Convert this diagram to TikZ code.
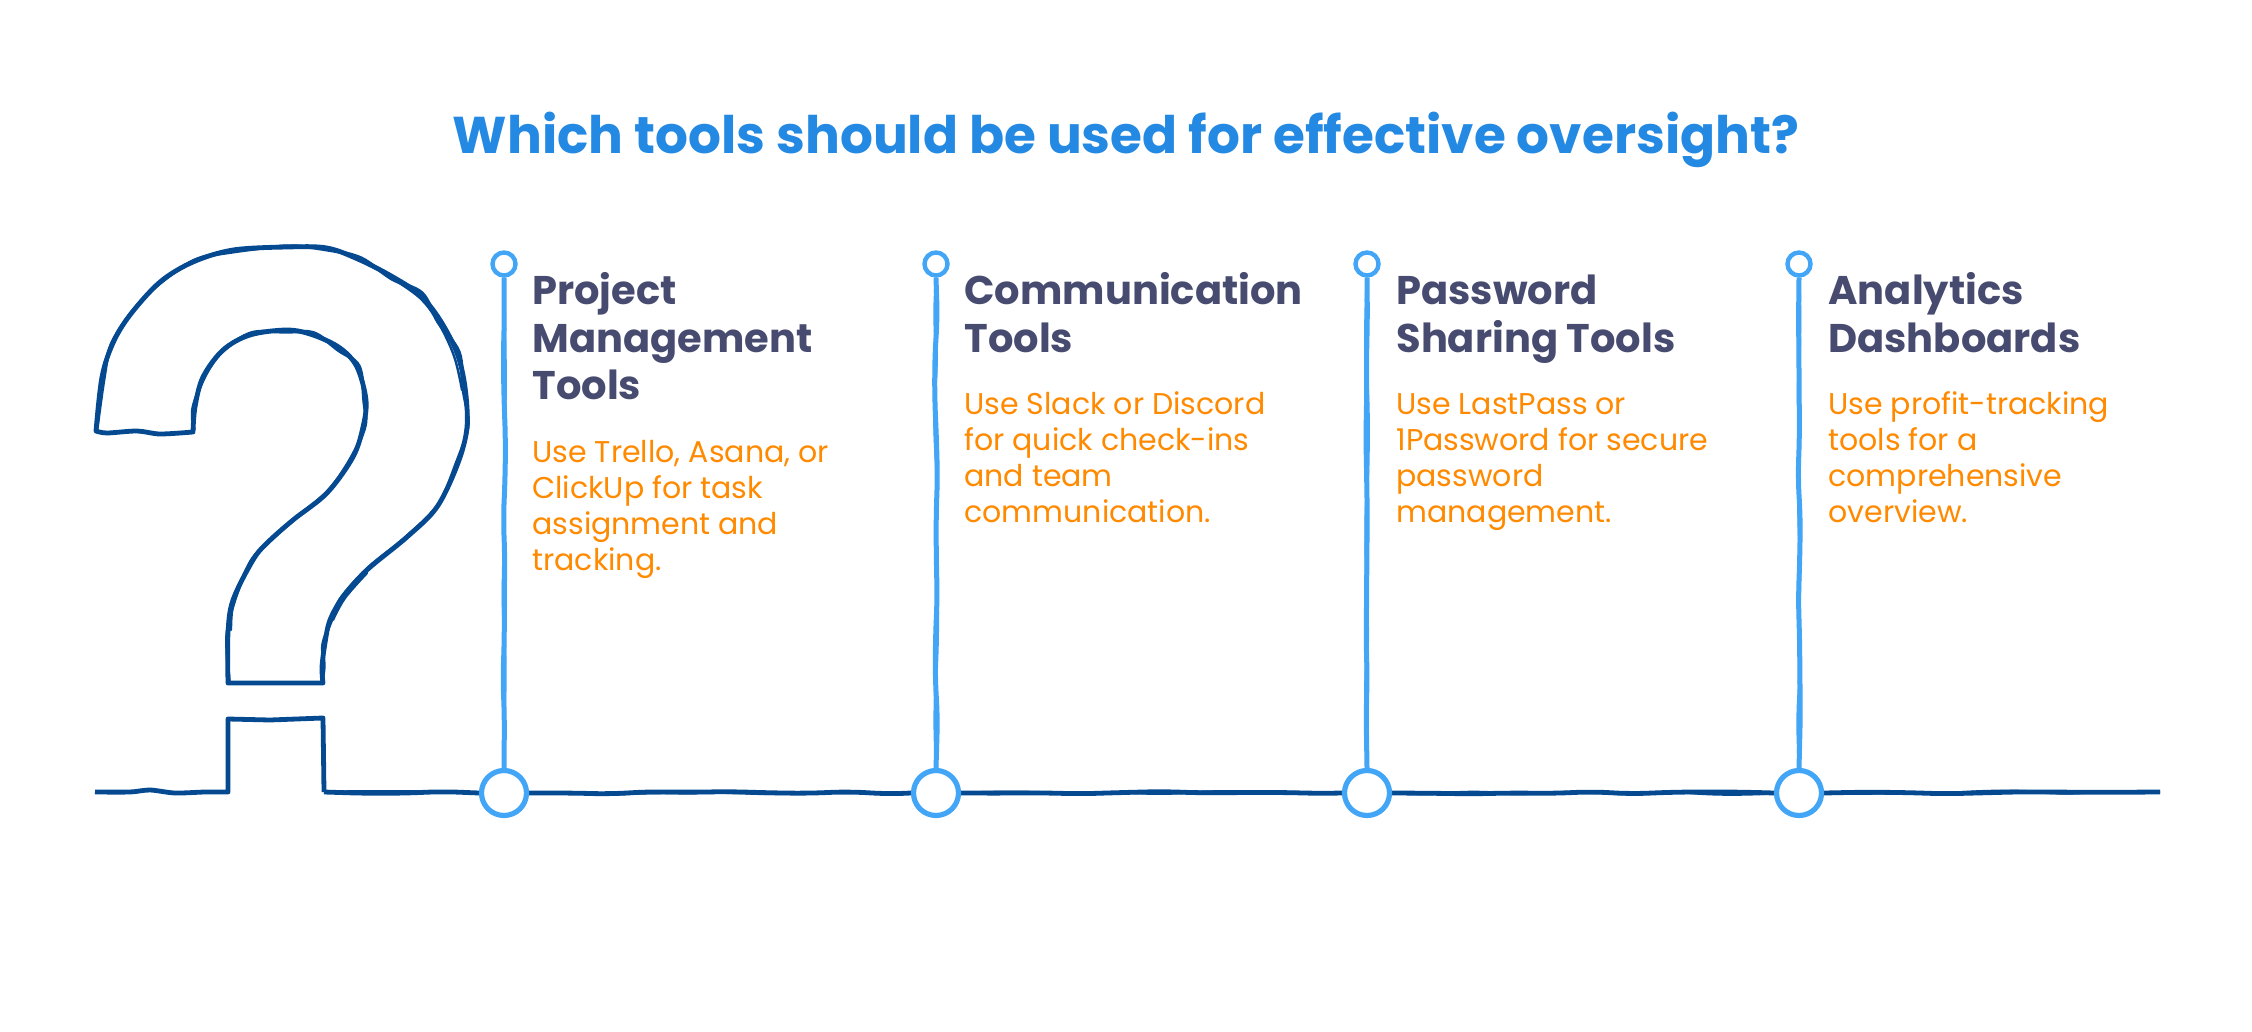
\documentclass[tikz,border=0pt]{standalone}
\usepackage{fontspec}
\setmainfont{Poppins}
\usetikzlibrary{decorations.pathmorphing,backgrounds}
\definecolor{qblue}{HTML}{054A91}
\definecolor{lblue}{HTML}{42A5F5}
\definecolor{ttl}{HTML}{2389E2}
\definecolor{hd}{HTML}{474B70}
\definecolor{bd}{HTML}{FF8A00}
\newcommand{\hstrut}{\rule{0pt}{16pt}}
\newcommand{\bstrut}{\rule{0pt}{12pt}}
\tikzset{
  bigdot/.style={circle,draw=lblue,fill=white,line width=2.6pt,minimum size=22.5pt,inner sep=0pt},
  smalldot/.style={circle,draw=lblue,fill=white,line width=2.2pt,minimum size=11.5pt,inner sep=0pt},
  wob/.style={decorate,decoration={random steps,segment length=20pt,amplitude=.75pt},rounded corners=8pt},
  vline/.style={wob,draw=lblue,line width=2.5pt},
  hline/.style={wob,draw=qblue,line width=2.4pt},
  qline/.style={draw=qblue,line width=2.4pt,line join=round,line cap=round},
  qjit/.style={qline,line width=1.7pt},
}
\tikzset{
  headtxt/.style={anchor=north west,inner sep=0pt,align=left,text=hd,font=\bfseries\fontsize{20}{23.85}\selectfont},
  bodytxt/.style={anchor=north west,inner sep=0pt,align=left,text=bd,font=\fontsize{15}{18}\selectfont},
}
\def\outercurve{(96,431)(102,377)(113,343)(130,315)(160,282)(193,262)(233,250)(287,247)(327,248)(360,260)(393,277)(420,295)(440,320)(457,353)(465,387)(467,427)(458,463)(437,507)(407,537)(367,570)(343,597)(330,620)(325,643)(322,667)(323,683)}
\def\outerjit{(97,428)(104,378)(111,345)(131,313)(159,284)(195,260)(232,252)(288,246)(328,250)(361,258)(392,279)(422,293)(438,322)(459,352)(463,388)(468,426)(456,464)(438,505)(405,538)(368,568)(341,598)(332,619)(323,644)(324,666)(322,682)}
\def\innercurve{(228,683)(228,633)(233,600)(253,560)(267,543)(293,520)(327,493)(353,457)(363,427)(366,400)(357,367)(340,348)(313,335)(287,330)(250,335)(223,350)(203,377)(195,407)(193,432)}
\def\innerjit{(229,681)(227,635)(235,599)(251,561)(269,542)(291,522)(328,491)(351,458)(365,426)(364,401)(359,366)(338,350)(314,333)(286,332)(251,333)(222,352)(205,376)(193,408)(194,430)}
\begin{document}
\begin{tikzpicture}[x=.5pt,y=-.5pt]
\useasboundingbox (0,0) rectangle (2252,1032);
\pgfmathsetseed{7}
\node[anchor=base,inner sep=0pt,text=ttl,font=\bfseries\fontsize{25.85}{30}\selectfont] (title) at (1126,154) {Which tools should be used for effective oversight?};
% dots
\foreach \n/\x in {1/504,2/936,3/1367,4/1799}{
  \node[bigdot] (b\n) at (\x,793) {};
  \node[smalldot] (s\n) at (\x,264) {};
}
\coordinate (ls) at (95,792);
\coordinate (le) at (2160,792);
\coordinate (st) at (324,792);
\begin{scope}[on background layer]
\fill[white] (0,0) rectangle (2252,1032);
\foreach \n in {1,2,3,4}{
  \draw[vline] (s\n.south) -- (b\n.north);
  \draw[vline,line width=1.6pt] (s\n.south) -- (b\n.north);
}
\foreach \a/\b in {st/b1.west,b1.east/b2.west,b2.east/b3.west,b3.east/b4.west,b4.east/le}{
  \draw[hline] (\a) -- (\b);
  \draw[hline,line width=1.5pt] (\a) -- (\b);
}
\end{scope}
% question mark
\draw[qline] plot[smooth,tension=.55] coordinates {\outercurve}
 -- (228,683) plot[smooth,tension=.55] coordinates {\innercurve}
 plot[smooth,tension=.5] coordinates {(193,432)(160,434)(137,431)(107,433)(96,431)};
\draw[qjit] plot[smooth,tension=.55] coordinates {\outerjit};
\draw[qjit] plot[smooth,tension=.55] coordinates {\innerjit};
\draw[qline,line width=1.2pt] plot[smooth,tension=.6] coordinates {(393,279)(420,298)(438,322)(454,356)(462,390)};
\draw[qline,line width=1.2pt] plot[smooth,tension=.6] coordinates {(367,573)(345,598)(333,620)};
\draw[qline,line width=1.2pt] plot[smooth,tension=.6] coordinates {(231,630)(234,600)(250,563)};
% step on the base line
\draw[qline,line cap=butt] plot[smooth,tension=.5] coordinates {(ls)(130,792)(150,790)(175,793)(205,792)(228,792)} -- (228,719) -- (270,720) -- (323,718) -- (324,792) -- (st);
% texts
\node[headtxt] (h1) at (532,272) {\hstrut Project\\Management\\Tools};
\node[bodytxt] (t1) at (532,438) {\bstrut Use Trello, Asana, or\\ClickUp for task\\assignment and\\tracking.};
\node[headtxt] (h2) at (964,272) {\hstrut Communication\\Tools};
\node[bodytxt] (t2) at (964,390) {\bstrut Use Slack or Discord\\for quick check-ins\\and team\\communication.};
\node[headtxt] (h3) at (1396,272) {\hstrut Password\\Sharing Tools};
\node[bodytxt] (t3) at (1396,390) {\bstrut Use LastPass or\\1Password for secure\\password\\management.};
\node[headtxt] (h4) at (1828,272) {\hstrut Analytics\\Dashboards};
\node[bodytxt] (t4) at (1828,390) {\bstrut Use profit-tracking\\tools for a\\comprehensive\\overview.};
\end{tikzpicture}
\end{document}
